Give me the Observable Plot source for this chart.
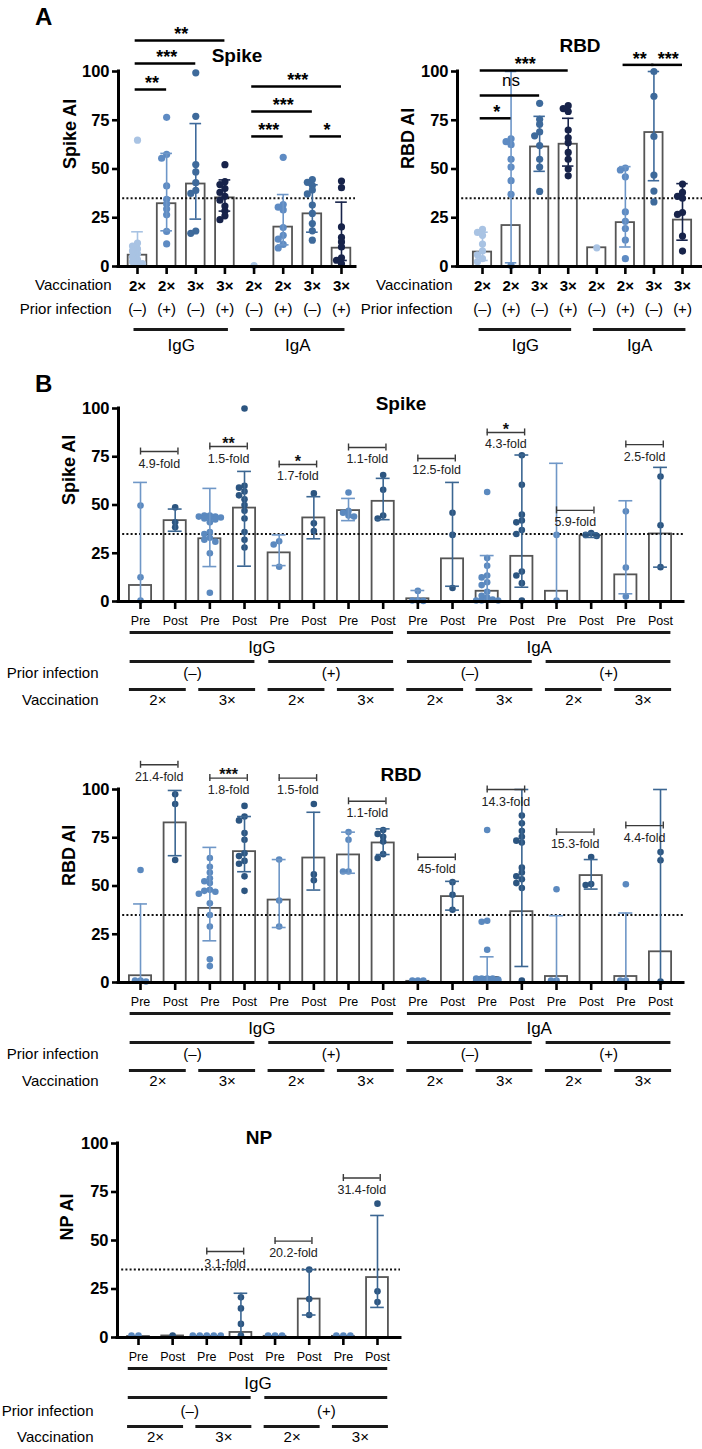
<!DOCTYPE html>
<html>
<head>
<meta charset="utf-8">
<script src="https://cdn.jsdelivr.net/npm/d3@7"></script>
<script src="https://cdn.jsdelivr.net/npm/@observablehq/plot@0.6"></script>
<style>
  html, body { margin: 0; padding: 0; background: #fff; }
  #root { position: relative; width: 702px; height: 1449px; overflow: hidden; font-family: "Liberation Sans", Arial, Helvetica, sans-serif; }
  .chart { position: absolute; }
  .chart svg { display: block; max-width: none; overflow: visible; }
  .plabel { position: absolute; font-weight: bold; font-size: 24px; line-height: 24px; color: #000; }
</style>
</head>
<body>
<div id="root">
  <div class="plabel" style="left:35px;top:5px;">A</div>
  <div class="plabel" style="left:35px;top:372px;">B</div>
</div>
<script>
// ================= DATA =================
// ---- Panel A (8 groups: IgG 1-4, IgA 5-8) ----
const aVaccination = ["2×", "2×", "3×", "3×", "2×", "2×", "3×", "3×"];
const aPriorInfection = ["(–)", "(+)", "(–)", "(+)", "(–)", "(+)", "(–)", "(+)"];
const aIsotypes = [{label: "IgG", from: 1, to: 4}, {label: "IgA", from: 5, to: 8}];

const aSpikeMean = [5.8, 32.2, 42.3, 35.2, 0, 20.2, 27, 9.4];
const aSpikeErrLow = [2, 18.3, 24.3, 28.4, null, 11.1, 17.6, 3.1];
const aSpikeErrHigh = [17.8, 58, 73.3, 44.4, null, 36.9, 41.9, 33];
const aSpikeDots = [
  [64.8, 12, 10.5, 9, 8, 6.5, 5, 3.5, 2.5, 1.5, 1],
  [76.5, 57.5, 55.5, 41.3, 34.5, 32, 29.5, 26.5, 18, 11.6],
  [99.3, 77, 52.3, 48.5, 43, 39, 37.5, 18.2, 17],
  [52.2, 43.5, 42, 40, 38, 36, 34, 31, 28.5, 26, 24],
  [0.5],
  [56, 31.8, 30.4, 29, 20, 16, 14, 11.3, 9.5],
  [44.6, 43.2, 41.5, 39.2, 37.2, 31.5, 27.2, 22, 18.3, 13.5],
  [43.8, 40.4, 20.3, 14.9, 12.6, 10, 4.5, 3.2, 1.4]
];
const aSpikeSig = [
  {from: 1, to: 4, label: "**", level: 115.9},
  {from: 1, to: 3, label: "***", level: 104.1},
  {from: 1, to: 2, label: "**", level: 90.8},
  {from: 5, to: 8, label: "***", level: 92.3},
  {from: 5, to: 7, label: "***", level: 79.5},
  {from: 5, to: 6, label: "***", level: 66.7},
  {from: 7, to: 8, label: "*", level: 66.7}
];

const aRbdMean = [7.4, 21, 61.3, 62.7, 9.6, 22.5, 68.7, 23.8];
const aRbdErrLow = [3.1, 1.9, 48.8, 51.5, null, 10, 44, 13.5];
const aRbdErrHigh = [17.6, 100, 77, 76, null, 51.2, 100, 42.5];
const aRbdDots = [
  [19, 17.5, 16, 11.5, 8, 6, 4, 2.5],
  [65.5, 64, 62.5, 55, 51, 44, 37, 0.5],
  [83.7, 75.5, 73, 69, 67, 62, 55, 51, 38.5],
  [82.5, 81, 79.5, 70, 66, 63.5, 58.5, 55, 50, 46.5],
  [9.6],
  [50.5, 49.5, 46, 28, 23.2, 19.5, 13.6, 4],
  [100, 87.3, 66.7, 46.9, 38.7, 33.1],
  [42.3, 38, 36, 35, 27.7, 26.7, 15.6, 7.9]
];
const aRbdSig = [
  {from: 1, to: 4, label: "***", level: 100.5},
  {from: 1, to: 3, label: "ns", level: 87.7},
  {from: 1, to: 2, label: "*", level: 76},
  {from: 6, to: 7, label: "**", level: 103.4},
  {from: 7, to: 8, label: "***", level: 103.4}
];

// ---- Panel B (16 bars: Pre/Post pairs) ----
const bTimepoints = ["Pre", "Post", "Pre", "Post", "Pre", "Post", "Pre", "Post",
                     "Pre", "Post", "Pre", "Post", "Pre", "Post", "Pre", "Post"];
const bIsotypes = [{label: "IgG", from: 1, to: 8}, {label: "IgA", from: 9, to: 16}];
const bPriorInfection = [
  {label: "(–)", from: 1, to: 4}, {label: "(+)", from: 5, to: 8},
  {label: "(–)", from: 9, to: 12}, {label: "(+)", from: 13, to: 16}
];
const bVaccination = [
  {label: "2×", from: 1, to: 2}, {label: "3×", from: 3, to: 4},
  {label: "2×", from: 5, to: 6}, {label: "3×", from: 7, to: 8},
  {label: "2×", from: 9, to: 10}, {label: "3×", from: 11, to: 12},
  {label: "2×", from: 13, to: 14}, {label: "3×", from: 15, to: 16}
];

const bSpikeMean = [8.3, 41.9, 32.5, 48.4, 25.2, 43.3, 47.1, 51.9, 1.4, 22.1, 5.3, 23.4, 5.3, 34.1, 13.8, 35];
const bSpikeErrLow = [0, 36.4, 18.1, 18.3, 18.6, 32.5, 41.9, 42.4, 0, 7.9, 0, 7.4, 0, 33.2, 4, 17.8];
const bSpikeErrHigh = [61.7, 47.9, 58.6, 67.4, 34.5, 54.3, 53.4, 63.8, 5.7, 61.7, 23.8, 75.9, 71.6, 35.6, 52.2, 69.5];
const bSpikeDots = [
  [49.7, 12.6, 0.5],
  [48.8, 41, 38.5],
  [44.5, 44.5, 44, 44, 43.5, 43.5, 43, 42.5, 41, 36, 35, 33, 32, 31, 25, 4.5],
  [100, 60, 59, 57, 55, 53, 50, 47, 43, 36, 32, 28],
  [31.2, 29.5, 18],
  [56, 40.5, 36.5],
  [56.5, 47, 46, 44.5, 44],
  [65.5, 57.9, 44.5, 43],
  [5.5, 0.5, 0.5, 0.3],
  [46, 34.5, 7],
  [56.7, 22.5, 18.5, 13.5, 12.5, 10, 8.5, 5, 3, 2, 1, 0.5, 0.5, 0.5],
  [75.8, 60.5, 45, 42, 41, 37, 35, 15.5, 13.5, 9.5, 0.5],
  [34.5, 0.5],
  [35.5, 34.5, 34],
  [46.7, 17.6, 2.6],
  [64.8, 39.5, 17.8]
];
const bSpikeFolds = [
  {from: 1, to: 2, level: 77.7, label: "4.9-fold", sig: ""},
  {from: 3, to: 4, level: 80.3, label: "1.5-fold", sig: "**"},
  {from: 5, to: 6, level: 71, label: "1.7-fold", sig: "*"},
  {from: 7, to: 8, level: 79.8, label: "1.1-fold", sig: ""},
  {from: 9, to: 10, level: 74.1, label: "12.5-fold", sig: ""},
  {from: 11, to: 12, level: 87.6, label: "4.3-fold", sig: "*"},
  {from: 13, to: 14, level: 47.2, label: "5.9-fold", sig: ""},
  {from: 15, to: 16, level: 81.3, label: "2.5-fold", sig: ""}
];

const bRbdMean = [3.5, 82.7, 38.4, 67.8, 42.7, 64.5, 66.1, 72.3, 0.6, 44.5, 2.6, 36.7, 3.1, 55.4, 3.1, 15.9];
const bRbdErrLow = [0, 65.7, 21.6, 57.4, 28.5, 47.9, 56.6, 66.3, null, 37.5, 0, 8.3, 0, 48.4, 0, 0];
const bRbdErrHigh = [40.7, 99.5, 70, 86, 63.7, 88.2, 77.9, 79.6, null, 52.4, 13.3, 100, 34.6, 63.7, 36, 100];
const bRbdDots = [
  [58.3, 1, 1, 0.5],
  [97.5, 92.5, 63.5],
  [64.5, 60, 57, 54, 52.5, 51.5, 48, 47.5, 47, 46, 41, 35, 29, 12, 8.5],
  [91.5, 86, 84, 77.5, 74, 67, 65.5, 63, 61.5, 55, 47.5],
  [63.7, 42.5, 29],
  [92.5, 56, 53],
  [78, 74, 57.5, 57.5],
  [79, 77, 75.5, 73, 66.5, 64.5],
  [1, 1, 1],
  [52, 45.5, 37.7],
  [79, 32, 31.5, 17, 2, 2, 2, 2, 1.5, 1.5, 1.5, 1, 1, 1, 1, 1],
  [86.5, 82.5, 78.5, 75.5, 73.5, 72.5, 59.5, 57, 55, 53.5, 51.5, 49, 1],
  [48.3, 1, 1],
  [65, 51, 50.5],
  [50.9, 1, 1],
  [67.6, 63.3, 0.5]
];
const bRbdFolds = [
  {from: 1, to: 2, level: 112.8, label: "21.4-fold", sig: ""},
  {from: 3, to: 4, level: 105.9, label: "1.8-fold", sig: "***"},
  {from: 5, to: 6, level: 105.9, label: "1.5-fold", sig: ""},
  {from: 7, to: 8, level: 93.9, label: "1.1-fold", sig: ""},
  {from: 9, to: 10, level: 64.9, label: "45-fold", sig: ""},
  {from: 11, to: 12, level: 100, label: "14.3-fold", sig: ""},
  {from: 13, to: 14, level: 77.9, label: "15.3-fold", sig: ""},
  {from: 15, to: 16, level: 81.3, label: "4.4-fold", sig: ""}
];

// ---- NP (8 bars, IgG only) ----
const npTimepoints = ["Pre", "Post", "Pre", "Post", "Pre", "Post", "Pre", "Post"];
const npIsotypes = [{label: "IgG", from: 1, to: 8}];
const npPriorInfection = [{label: "(–)", from: 1, to: 4}, {label: "(+)", from: 5, to: 8}];
const npVaccination = [
  {label: "2×", from: 1, to: 2}, {label: "3×", from: 3, to: 4},
  {label: "2×", from: 5, to: 6}, {label: "3×", from: 7, to: 8}
];
const npMean = [0.5, 0.8, 0.6, 2.6, 0.6, 19.8, 0.6, 30.9];
const npErrLow = [null, null, null, 0, null, 11.6, null, 15.5];
const npErrHigh = [null, null, null, 22.8, null, 35, null, 62.9];
const npDots = [
  [1, 1],
  [1],
  [1, 1, 1, 1, 1],
  [20.7, 15, 7, 1],
  [1, 1, 1],
  [35, 19.8, 11.6],
  [1, 1, 1],
  [69, 23.8, 18.3]
];
const npFolds = [
  {from: 3, to: 4, level: 44.3, label: "3.1-fold", sig: ""},
  {from: 5, to: 6, level: 49.7, label: "20.2-fold", sig: ""},
  {from: 7, to: 8, level: 82.2, label: "31.4-fold", sig: ""}
];

const yTicks = [0, 25, 50, 75, 100];
const threshold = 35;

// ================= STYLES =================
const FONT = '"Liberation Sans", Arial, Helvetica, sans-serif';
const aDotColors = ["#a9c3e3", "#5e8bc3", "#3e6a9b", "#17234a"];
const aErrColors = ["#a9c3e3", "#6d96c8", "#3e6a9b", "#17234a"];
const bPreDot = "#5b89bf", bPreErr = "#6f97c7", bPostDot = "#2c5580", bPostErr = "#3b6692";

// ================= HELPERS =================
// horizontal spreading of overlapping dots (layout only)
function spreadDots(values, collideUnits, stepUnits, maxSteps) {
  const placed = [];
  [...values].sort((a, b) => b - a).forEach(v => {
    let best = 0, bestHits = Infinity;
    for (let n = 0; n <= maxSteps * 2; n++) {
      const cand = n === 0 ? 0 : (n % 2 ? -1 : 1) * Math.ceil(n / 2) * stepUnits;
      const hits = placed.filter(p => Math.abs(p.v - v) < collideUnits && Math.abs(p.o - cand) < stepUnits * 0.5).length;
      if (hits < bestHits) { best = cand; bestHits = hits; }
      if (hits === 0) break;
    }
    placed.push({v, o: best});
  });
  return placed;
}

function makeChart(c) {
  const n = c.means.length;
  const idx = d3.range(1, n + 1);
  const frameW = c.width - c.marginLeft - c.marginRight;
  const frameH = c.height - c.marginTop - c.marginBottom;
  const pxX = frameW / (c.domain[1] - c.domain[0]);
  const pxY = frameH / 100;
  const bars = idx.map(i => ({i, m: c.means[i - 1], lo: c.errLow[i - 1], hi: c.errHigh[i - 1],
    dot: c.dotColor(i), err: c.errColor(i)}));
  const errBars = bars.filter(d => d.hi != null);
  const dots = [];
  idx.forEach(i => spreadDots(c.dots[i - 1], c.collidePx / pxY, c.stepPx / pxX, c.maxSteps)
    .forEach(p => dots.push({x: i + p.o, v: p.v, col: c.dotColor(i)})));
  const zero = () => 0;
  const marks = [
    Plot.rect(bars, {x1: d => d.i - 0.32, x2: d => d.i + 0.32, y1: zero, y2: "m",
      fill: "white", stroke: "#555", strokeWidth: 1.8}),
    Plot.ruleY([threshold], {stroke: "#111", strokeWidth: 2, strokeDasharray: "2,2.2"}),
    Plot.dot(dots, {x: "x", y: "v", r: c.r, fill: "col", stroke: "none"}),
    Plot.ruleX(errBars, {x: "i", y1: "lo", y2: "hi", stroke: "err", strokeWidth: 1.6}),
    Plot.ruleY(errBars, {y: "hi", x1: d => d.i - 0.2, x2: d => d.i + 0.2, stroke: "err", strokeWidth: 1.6}),
    Plot.ruleY(errBars.filter(d => d.lo > 0), {y: "lo", x1: d => d.i - 0.2, x2: d => d.i + 0.2, stroke: "err", strokeWidth: 1.6}),
    Plot.ruleX([c.domain[0]], {stroke: "#000", strokeWidth: 3, strokeLinecap: "square"}),
    Plot.ruleY([0], {stroke: "#000", strokeWidth: 3, strokeLinecap: "square"}),
    Plot.axisY({ticks: yTicks, tickSize: 6, tickPadding: 3, fontSize: 16.5, fontWeight: "bold",
      strokeWidth: 2.6, label: null, fill: "#000", stroke: "#000"}),
    Plot.axisX({ticks: idx, tickSize: 8, tickPadding: c.xTickPadding, tickFormat: d => c.xLabels[d - 1],
      fontSize: c.xFontSize, fontWeight: c.xFontWeight, strokeWidth: 2.6, label: null, fill: "#000", stroke: "#000"}),
    Plot.text([c.yLabel], {frameAnchor: "left", dx: c.yLabelDx, rotate: -90, text: d => d,
      fontSize: 18, fontWeight: "bold", fill: "#000"}),
    Plot.text([c.title], {frameAnchor: "top", dy: c.titleDy, text: d => d, lineAnchor: "middle",
      fontSize: 19, fontWeight: "bold", fill: "#000"})
  ];
  // significance brackets (panel A)
  if (c.sig) {
    marks.push(
      Plot.ruleY(c.sig, {y: "level", x1: d => d.from - 0.08, x2: "to", stroke: "#000", strokeWidth: 2.5}),
      Plot.text(c.sig.filter(d => d.label !== "ns"), {x: d => (d.from + d.to) / 2, y: "level", text: "label",
        dy: -6, lineAnchor: "middle", fontSize: 18, fontWeight: "bold", fill: "#000"}),
      Plot.text(c.sig.filter(d => d.label === "ns"), {x: d => (d.from + d.to) / 2, y: "level", text: "label",
        dy: -15, lineAnchor: "middle", fontSize: 17, fill: "#000"})
    );
  }
  // fold-change brackets (panel B)
  if (c.folds) {
    marks.push(
      Plot.ruleY(c.folds, {y: "level", x1: "from", x2: d => d.to + 0.08, stroke: "#3a3a3a", strokeWidth: 1.4}),
      Plot.ruleX(c.folds, {x: "from", y1: "level", y2: "level", insetTop: -3.5, insetBottom: -3.5, stroke: "#3a3a3a", strokeWidth: 1.4}),
      Plot.ruleX(c.folds, {x: d => d.to + 0.08, y1: "level", y2: "level", insetTop: -3.5, insetBottom: -3.5, stroke: "#3a3a3a", strokeWidth: 1.4}),
      Plot.text(c.folds, {x: d => (d.from + d.to) / 2 + 0.04, y: "level", text: "label", dy: 12,
        lineAnchor: "middle", fontSize: 12.5, fill: "#222"}),
      Plot.text(c.folds.filter(d => d.sig), {x: d => (d.from + d.to) / 2 + 0.04, y: "level", text: "sig", dy: -3,
        lineAnchor: "middle", fontSize: 16, fontWeight: "bold", fill: "#111"})
    );
  }
  // category rows under the axis
  (c.rows || []).forEach(r => {
    if (r.perBar) {
      marks.push(Plot.text(idx, {x: d => d, y: zero, text: d => r.perBar[d - 1], dy: r.dy,
        lineAnchor: "middle", fontSize: r.fontSize, fill: "#000"}));
    }
    if (r.spans) {
      if (r.lineDy != null) {
        marks.push(Plot.ruleY(r.spans, {y: zero, x1: d => d.from - r.pad, x2: d => d.to + r.pad,
          dy: r.lineDy, stroke: "#1a1a1a", strokeWidth: 3}));
      }
      marks.push(Plot.text(r.spans, {x: d => (d.from + d.to) / 2, y: zero, text: "label", dy: r.dy,
        lineAnchor: "middle", fontSize: r.fontSize, fill: "#000"}));
    }
    if (r.name) {
      marks.push(Plot.text([r.name], {frameAnchor: "bottom-left", dx: c.rowNameDx, dy: r.dy, text: d => d,
        textAnchor: "end", lineAnchor: "middle", fontSize: 15, fill: "#000"}));
    }
  });

  const svg = Plot.plot({
    width: c.width, height: c.height,
    marginLeft: c.marginLeft, marginRight: c.marginRight,
    marginTop: c.marginTop, marginBottom: c.marginBottom,
    x: {domain: c.domain},
    y: {domain: [0, 100]},
    color: {type: "identity"},
    style: {fontFamily: FONT, background: "transparent", overflow: "visible", color: "#000"},
    marks
  });
  const div = document.createElement("div");
  div.className = "chart";
  div.style.left = c.left + "px";
  div.style.top = c.top + "px";
  div.style.width = c.width + "px";
  div.style.height = c.height + "px";
  div.appendChild(svg);
  document.getElementById("root").appendChild(div);
}

const aColorFn = i => aDotColors[(i - 1) % 4];
const aErrFn = i => aErrColors[(i - 1) % 4];
const bDotFn = labels => i => labels[i - 1] === "Pre" ? bPreDot : bPostDot;
const bErrFn = labels => i => labels[i - 1] === "Pre" ? bPreErr : bPostErr;

// ---- Panel A: Spike ----
makeChart({
  left: 0, top: 0, width: 356, height: 360,
  marginLeft: 118, marginRight: 1, marginTop: 71, marginBottom: 94,
  domain: [0.348, 8.481],
  means: aSpikeMean, errLow: aSpikeErrLow, errHigh: aSpikeErrHigh, dots: aSpikeDots,
  dotColor: aColorFn, errColor: aErrFn, r: 3.6, collidePx: 4, stepPx: 5, maxSteps: 1,
  xLabels: aVaccination, xFontSize: 15, xFontWeight: "bold", xTickPadding: 6,
  yLabel: "Spike AI", yLabelDx: -48, title: "Spike", titleDy: -16,
  sig: aSpikeSig, rowNameDx: -7,
  rows: [
    {name: "Vaccination", dy: 19},
    {name: "Prior infection", perBar: aPriorInfection, dy: 43, fontSize: 15},
    {spans: aIsotypes, lineDy: 63, pad: 0.12, dy: 79, fontSize: 17}
  ]
});

// ---- Panel A: RBD ----
makeChart({
  left: 350, top: 0, width: 352, height: 360,
  marginLeft: 107, marginRight: 0, marginTop: 71, marginBottom: 94,
  domain: [0.125, 8.70],
  means: aRbdMean, errLow: aRbdErrLow, errHigh: aRbdErrHigh, dots: aRbdDots,
  dotColor: aColorFn, errColor: aErrFn, r: 3.6, collidePx: 4, stepPx: 5, maxSteps: 1,
  xLabels: aVaccination, xFontSize: 15, xFontWeight: "bold", xTickPadding: 6,
  yLabel: "RBD AI", yLabelDx: -49, title: "RBD", titleDy: -26,
  sig: aRbdSig, rowNameDx: -5,
  rows: [
    {name: "Vaccination", dy: 19},
    {name: "Prior infection", perBar: aPriorInfection, dy: 43, fontSize: 15},
    {spans: aIsotypes, lineDy: 63, pad: 0.12, dy: 79, fontSize: 17}
  ]
});

// ---- Panel B: Spike ----
makeChart({
  left: 0, top: 360, width: 702, height: 351,
  marginLeft: 118, marginRight: 19, marginTop: 48, marginBottom: 110,
  domain: [0.365, 16.663],
  means: bSpikeMean, errLow: bSpikeErrLow, errHigh: bSpikeErrHigh, dots: bSpikeDots,
  dotColor: bDotFn(bTimepoints), errColor: bErrFn(bTimepoints), r: 3.3, collidePx: 4, stepPx: 5.5, maxSteps: 2,
  xLabels: bTimepoints, xFontSize: 12.5, xFontWeight: "normal", xTickPadding: 7,
  yLabel: "Spike AI", yLabelDx: -49, title: "Spike", titleDy: -5,
  folds: bSpikeFolds, rowNameDx: -20,
  rows: [
    {spans: bIsotypes, lineDy: 31, pad: 0.3, dy: 46, fontSize: 17},
    {name: "Prior infection", spans: bPriorInfection, lineDy: 60, pad: 0.3, dy: 72, fontSize: 15},
    {name: "Vaccination", spans: bVaccination, lineDy: 88, pad: 0.32, dy: 99, fontSize: 15}
  ]
});

// ---- Panel B: RBD ----
makeChart({
  left: 0, top: 711, width: 702, height: 381,
  marginLeft: 118, marginRight: 19, marginTop: 78, marginBottom: 110,
  domain: [0.365, 16.663],
  means: bRbdMean, errLow: bRbdErrLow, errHigh: bRbdErrHigh, dots: bRbdDots,
  dotColor: bDotFn(bTimepoints), errColor: bErrFn(bTimepoints), r: 3.3, collidePx: 4, stepPx: 5.5, maxSteps: 2,
  xLabels: bTimepoints, xFontSize: 12.5, xFontWeight: "normal", xTickPadding: 7,
  yLabel: "RBD AI", yLabelDx: -49, title: "RBD", titleDy: -15,
  folds: bRbdFolds, rowNameDx: -20,
  rows: [
    {spans: bIsotypes, lineDy: 31, pad: 0.3, dy: 46, fontSize: 17},
    {name: "Prior infection", spans: bPriorInfection, lineDy: 60, pad: 0.3, dy: 72, fontSize: 15},
    {name: "Vaccination", spans: bVaccination, lineDy: 88, pad: 0.32, dy: 99, fontSize: 15}
  ]
});

// ---- Panel B: NP ----
makeChart({
  left: 0, top: 1092, width: 420, height: 357,
  marginLeft: 117, marginRight: 20, marginTop: 51, marginBottom: 112,
  domain: [0.385, 8.674],
  means: npMean, errLow: npErrLow, errHigh: npErrHigh, dots: npDots,
  dotColor: bDotFn(npTimepoints), errColor: bErrFn(npTimepoints), r: 3.3, collidePx: 4, stepPx: 7, maxSteps: 2,
  xLabels: npTimepoints, xFontSize: 12.5, xFontWeight: "normal", xTickPadding: 7,
  yLabel: "NP AI", yLabelDx: -50, title: "NP", titleDy: -6,
  folds: npFolds, rowNameDx: -24,
  rows: [
    {spans: npIsotypes, lineDy: 31, pad: 0.3, dy: 46, fontSize: 17},
    {name: "Prior infection", spans: npPriorInfection, lineDy: 60, pad: 0.3, dy: 74, fontSize: 15},
    {name: "Vaccination", spans: npVaccination, lineDy: 89, pad: 0.32, dy: 100, fontSize: 15}
  ]
});
</script>
</body>
</html>
